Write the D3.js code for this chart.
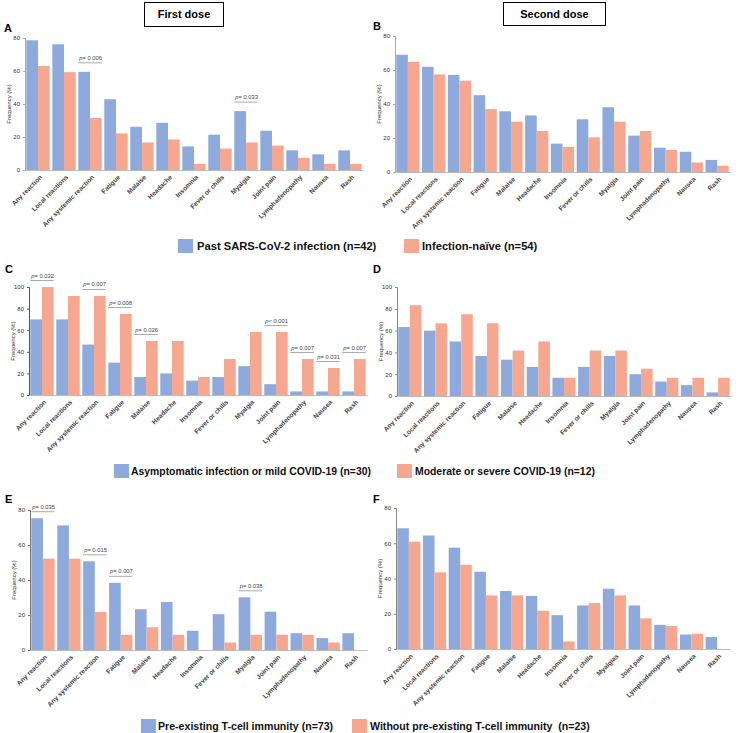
<!DOCTYPE html>
<html>
<head>
<meta charset="utf-8">
<script src="https://cdn.jsdelivr.net/npm/d3@7"></script>
<style>
  html, body { margin: 0; padding: 0; background: #fff; }
  svg { display: block; font-family: "Liberation Sans", Arial, sans-serif; }
</style>
</head>
<body>
<svg id="chart" width="738" height="733"></svg>
<script>
// ---------- DATA ----------
const categories = ["Any reaction", "Local reactions", "Any systemic reaction", "Fatigue", "Malaise",
  "Headache", "Insomnia", "Fever or chills", "Myalgia", "Joint pain", "Lymphadenopathy", "Nausea", "Rash"];
const categoriesF = ["Any reaction", "Local reactions", "Any systemic reaction", "Fatigue", "Malaise",
  "Headache", "Insomnia", "Fever or chills", "Myalgias", "Joint pain", "Lymphadenopathy", "Nausea", "Rash"];

// Panel A: first dose, past infection vs naive
const aPast  = [78.6, 76.2, 59.5, 42.9, 26.2, 28.6, 14.3, 21.4, 35.7, 23.8, 11.9, 9.5, 11.9];
const aNaive = [63.0, 59.3, 31.5, 22.2, 16.7, 18.5, 3.7, 13.0, 16.7, 14.8, 7.4, 3.7, 3.7];
// Panel B: second dose
const bPast  = [69.0, 61.9, 57.1, 45.2, 35.7, 33.3, 16.7, 31.0, 38.1, 21.4, 14.3, 11.9, 7.1];
const bNaive = [64.8, 57.4, 53.7, 37.0, 29.6, 24.1, 14.8, 20.4, 29.6, 24.1, 13.0, 5.6, 3.7];
// Panel C: first dose, mild vs severe COVID-19
const cMild   = [70.0, 70.0, 46.7, 30.0, 16.7, 20.0, 13.3, 16.7, 26.7, 10.0, 3.3, 3.3, 3.3];
const cSevere = [100, 91.7, 91.7, 75.0, 50.0, 50.0, 16.7, 33.3, 58.3, 58.3, 33.3, 25.0, 33.3];
// Panel D: second dose
const dMild   = [63.3, 60.0, 50.0, 36.7, 33.3, 26.7, 16.7, 26.7, 36.7, 20.0, 13.3, 10.0, 3.3];
const dSevere = [83.3, 66.7, 75.0, 66.7, 41.7, 50.0, 16.7, 41.7, 41.7, 25.0, 16.7, 16.7, 16.7];
// Panel E: first dose, T-cell immunity
const eTcell   = [75.3, 71.2, 50.7, 38.4, 23.3, 27.4, 11.0, 20.5, 30.1, 21.9, 9.6, 6.8, 9.6];
const eNoTcell = [52.2, 52.2, 21.7, 8.7, 13.0, 8.7, 0, 4.3, 8.7, 8.7, 8.7, 4.3, 0];
// Panel F: second dose
const fTcell   = [68.5, 64.4, 57.5, 43.8, 32.9, 30.1, 19.2, 24.7, 34.2, 24.7, 13.7, 8.2, 6.8];
const fNoTcell = [60.9, 43.5, 47.8, 30.4, 30.4, 21.7, 4.3, 26.1, 30.4, 17.4, 13.0, 8.7, 0];

const yTicks80 = [0, 20, 40, 60, 80];
const yTicks100 = [0, 20, 40, 60, 80, 100];

// p-value annotations (category index, text after "p")
const annA = [{i: 2, t: "= 0.006"}, {i: 8, t: "= 0.033"}];
const annC = [{i: 0, t: "= 0.032"}, {i: 2, t: "= 0.007"}, {i: 3, t: "= 0.008"}, {i: 4, t: "= 0.026"},
              {i: 9, t: "< 0.001"}, {i: 10, t: "= 0.007"}, {i: 11, t: "= 0.031"}, {i: 12, t: "= 0.007"}];
const annE = [{i: 0, t: "= 0.035"}, {i: 2, t: "= 0.015"}, {i: 3, t: "= 0.007"}, {i: 8, t: "= 0.038"}];

const legend1 = ["Past SARS-CoV-2 infection (n=42)", "Infection-naïve (n=54)"];
const legend2 = ["Asymptomatic infection or mild COVID-19 (n=30)", "Moderate or severe COVID-19 (n=12)"];
const legend3 = ["Pre-existing T-cell immunity (n=73)", "Without pre-existing T-cell immunity  (n=23)"];
const headers = ["First dose", "Second dose"];
const yLabel = "Frequency (%)";

// ---------- STYLE ----------
const BLUE = "#8eaadc";
const ORANGE = "#f5a78f";

const svg = d3.select("#chart");

// ---------- PANELS ----------
const panels = [
  {letter: "A", lx: 4, ly: 32, cats: categories, s1: aPast, s2: aNaive, x0: 25, x1: 363, yTop: 38, yBot: 170, max: 80, ticks: yTicks80, ann: annA, annOff: 9, axisColor: "#aaa"},
  {letter: "B", lx: 373, ly: 30, cats: categories, s1: bPast, s2: bNaive, x0: 395, x1: 730, yTop: 36, yBot: 172, max: 80, ticks: yTicks80, ann: [], annOff: 7, axisColor: "#aaa"},
  {letter: "C", lx: 5, ly: 273, cats: categories, s1: cMild, s2: cSevere, x0: 29, x1: 367, yTop: 287, yBot: 395, max: 100, ticks: yTicks100, ann: annC, annOff: 6.5, axisColor: "#555"},
  {letter: "D", lx: 373, ly: 273, cats: categories, s1: dMild, s2: dSevere, x0: 397, x1: 731, yTop: 287, yBot: 396, max: 100, ticks: yTicks100, ann: [], annOff: 7, axisColor: "#888"},
  {letter: "E", lx: 5, ly: 503, cats: categories, s1: eTcell, s2: eNoTcell, x0: 30, x1: 367, yTop: 510, yBot: 650, max: 80, ticks: yTicks80, ann: annE, annOff: 6.5, axisColor: "#777"},
  {letter: "F", lx: 373, ly: 503, cats: categoriesF, s1: fTcell, s2: fNoTcell, x0: 396, x1: 730, yTop: 508, yBot: 649, max: 80, ticks: yTicks80, ann: [], annOff: 7, axisColor: "#888"}
];

panels.forEach(p => {
  const g = svg.append("g");
  const x = d3.scaleBand().domain(p.cats).range([p.x0, p.x1]).paddingInner(0.1).paddingOuter(0.05);
  const xs = d3.scaleBand().domain([0, 1]).range([0, x.bandwidth()]);
  const y = d3.scaleLinear().domain([0, p.max]).range([p.yBot, p.yTop]);

  // bars
  const rows = p.cats.map((c, i) => ({c, v: [p.s1[i], p.s2[i]]}));
  const grp = g.selectAll("g.grp").data(rows).join("g").attr("transform", d => `translate(${x(d.c)},0)`);
  grp.selectAll("rect").data(d => d.v.map((v, k) => ({v, k}))).join("rect")
    .attr("x", d => xs(d.k))
    .attr("width", xs.bandwidth())
    .attr("y", d => y(d.v))
    .attr("height", d => y(0) - y(d.v))
    .attr("fill", d => d.k === 0 ? BLUE : ORANGE);

  // y axis
  const yAxis = d3.axisLeft(y).tickValues(p.ticks).tickSize(2).tickPadding(3).tickFormat(d3.format("d"));
  const ya = g.append("g").attr("transform", `translate(${p.x0},0)`).call(yAxis);
  ya.select(".domain").attr("stroke", p.axisColor);
  ya.selectAll(".tick line").attr("stroke", p.axisColor);
  ya.selectAll(".tick text").attr("font-size", 6).attr("fill", "#333").attr("font-family", "Liberation Sans, Arial, sans-serif");

  // x axis
  const xAxis = d3.axisBottom(x).tickSize(0).tickSizeOuter(0).tickPadding(0);
  const xa = g.append("g").attr("transform", `translate(0,${p.yBot})`).call(xAxis);
  xa.select(".domain").attr("stroke", "#bbb");
  xa.selectAll(".tick text")
    .attr("font-size", 6.6).attr("font-weight", "bold").attr("fill", "#444")
    .attr("font-family", "Liberation Sans, Arial, sans-serif")
    .attr("text-anchor", "end")
    .attr("dy", "0.35em")
    .attr("transform", "translate(3,6) rotate(-45)");

  // y label
  g.append("text")
    .attr("transform", `translate(${p.x0 - 14},${(p.yTop + p.yBot) / 2}) rotate(-90)`)
    .attr("text-anchor", "middle")
    .attr("font-size", 6).attr("fill", "#333")
    .text(yLabel);

  // panel letter
  g.append("text").attr("x", p.lx).attr("y", p.ly)
    .attr("font-size", 11).attr("font-weight", "bold").attr("fill", "#000").text(p.letter);

  // annotations
  p.ann.forEach(a => {
    const c = p.cats[a.i];
    const top = y(Math.max(p.s1[a.i], p.s2[a.i])) - p.annOff;
    const bx0 = x(c), bx1 = x(c) + x.bandwidth();
    g.append("line").attr("x1", bx0).attr("x2", bx1).attr("y1", top).attr("y2", top)
      .attr("stroke", "#aaa").attr("stroke-width", 1);
    const t = g.append("text").attr("x", bx0 + 1).attr("y", top - 3)
      .attr("font-size", 5.8).attr("fill", "#444");
    t.append("tspan").attr("font-style", "italic").text("p");
    t.append("tspan").text(a.t);
  });
});

// ---------- HEADERS ----------
const headerBoxes = [{x: 144, y: 2, w: 79, h: 24}, {x: 503, y: 2, w: 102, h: 23}];
headers.forEach((h, i) => {
  const b = headerBoxes[i];
  svg.append("rect").attr("x", b.x + 0.5).attr("y", b.y + 0.5).attr("width", b.w).attr("height", b.h)
    .attr("fill", "#fff").attr("stroke", "#000").attr("stroke-width", 1);
  svg.append("text").attr("x", b.x + b.w / 2 + 0.5).attr("y", b.y + b.h / 2 + 0.5).attr("dy", "0.35em")
    .attr("text-anchor", "middle").attr("font-size", 11).attr("font-weight", "bold").text(h);
});

// ---------- LEGENDS ----------
const legends = [
  {labels: legend1, cy: 246, items: [{sx: 178, tx: 197}, {sx: 404, tx: 422}], size: 11.2},
  {labels: legend2, cy: 471, items: [{sx: 114, tx: 131}, {sx: 397, tx: 415}], size: 10.4},
  {labels: legend3, cy: 726, items: [{sx: 141, tx: 158}, {sx: 352, tx: 370}], size: 10.6}
];
legends.forEach(L => {
  L.labels.forEach((lab, k) => {
    const it = L.items[k];
    svg.append("rect").attr("x", it.sx).attr("y", L.cy - 7).attr("width", 15).attr("height", 14)
      .attr("fill", k === 0 ? BLUE : ORANGE);
    svg.append("text").attr("x", it.tx).attr("y", L.cy).attr("dy", "0.35em")
      .attr("font-size", L.size).attr("font-weight", "bold").attr("fill", "#111")
      .attr("xml:space", "preserve").style("white-space", "pre")
      .text(lab);
  });
});
</script>
</body>
</html>
